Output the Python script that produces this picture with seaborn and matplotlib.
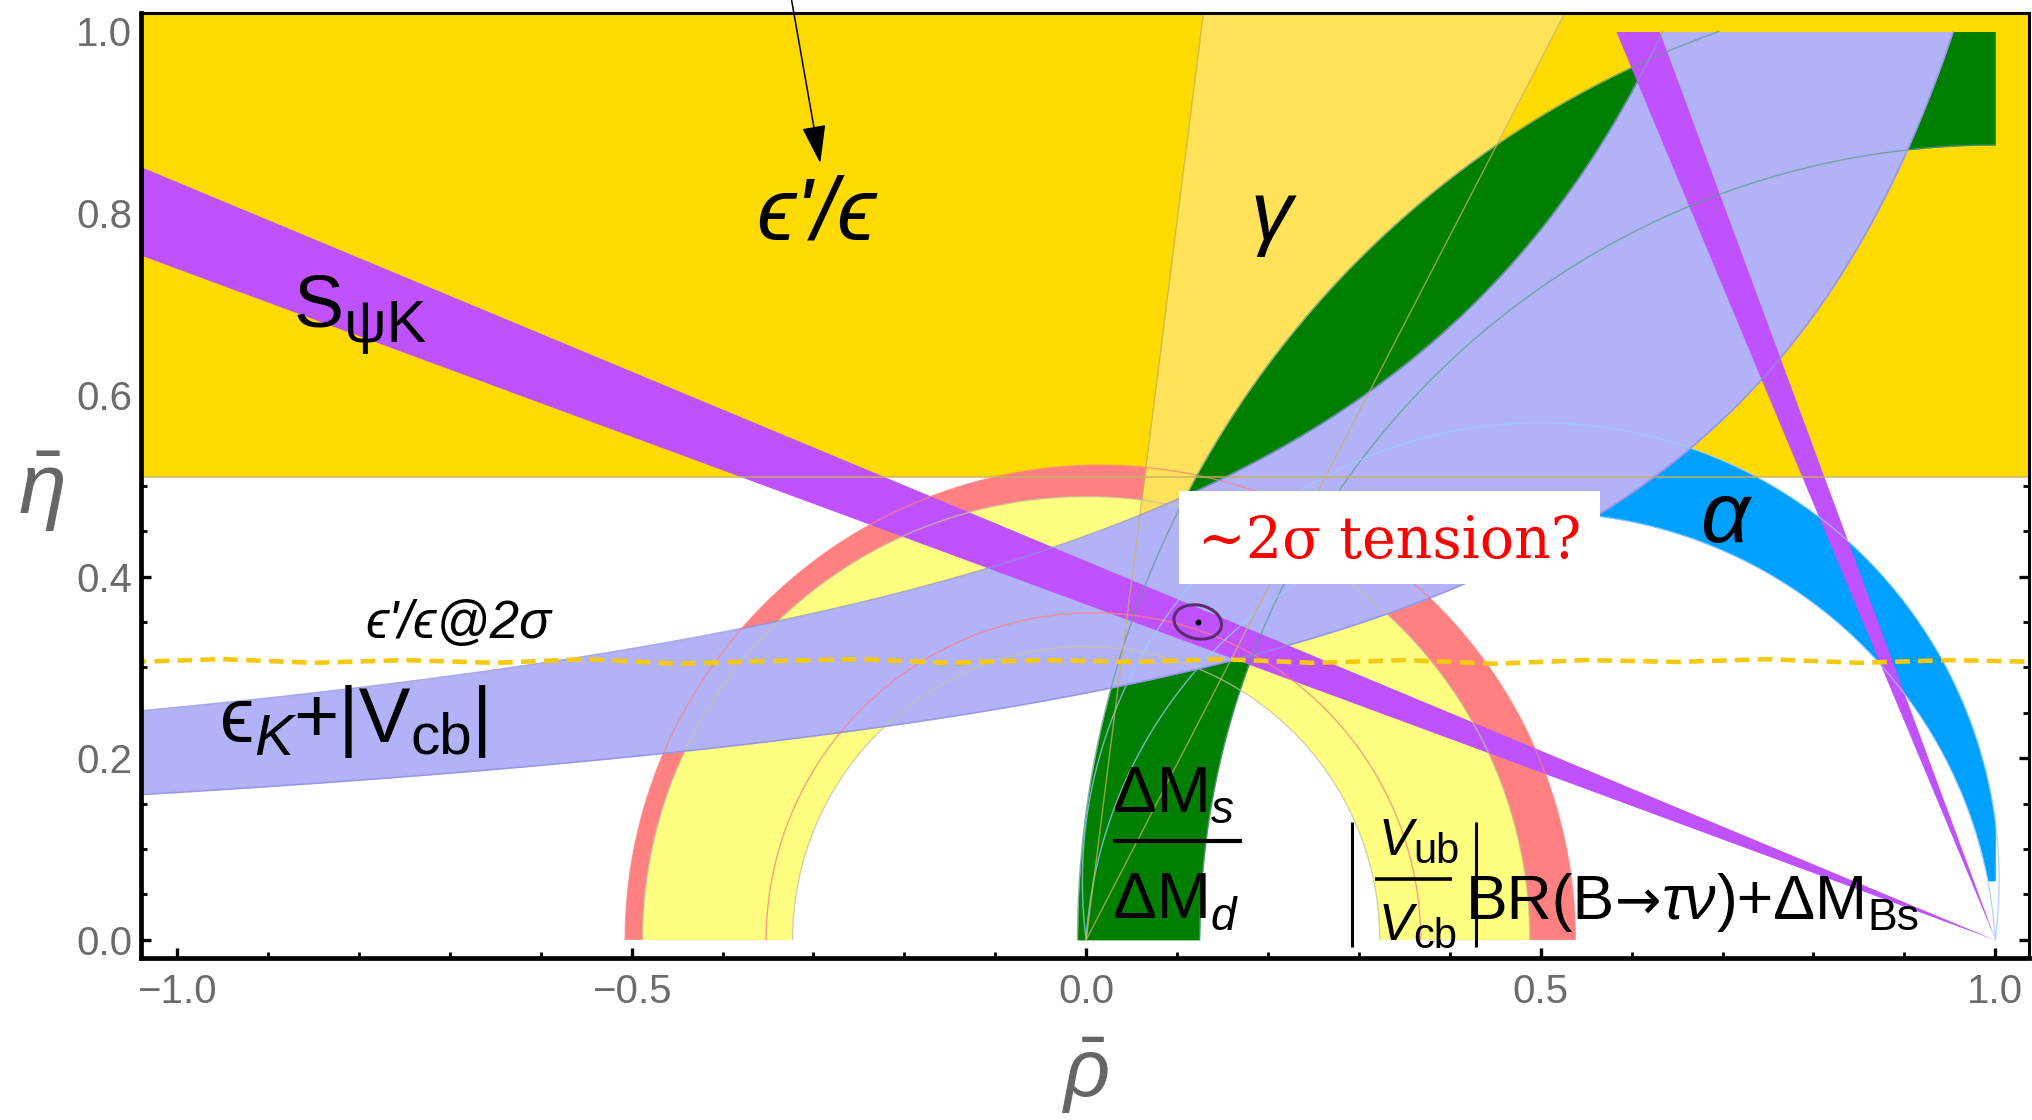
import numpy as np
import seaborn as sns
import matplotlib
matplotlib.use("Agg")
import matplotlib.pyplot as plt
from matplotlib.patches import Ellipse, Rectangle
from matplotlib.ticker import MultipleLocator
from matplotlib.transforms import offset_copy

# ---------------- plot window ----------------
RHO_LIM = [-1.04, 1.037]
ETA_LIM = [-0.02, 1.02]
RHO_TICKS = [-1.0, -0.5, 0.0, 0.5, 1.0]
ETA_TICKS = [0.0, 0.2, 0.4, 0.6, 0.8, 1.0]
SCAN_MAX = [1.0, 1.0]          # rho, eta limit of the constraint scan

# ---------------- constraints ----------------
EPSP_ETA_MIN = 0.51            # eps'/eps favoured region: eta above this
GAMMA_DEG = [62.7, 82.8]       # gamma wedge from the origin
BETA_DEG = [20.28, 22.65]      # S_psiK, lines through (1, 0)
ALPHA_DEG = [82.6, 93.5]       # alpha, arcs through (0,0) and (1,0)
ALPHA_RHO_MIN = 0.45           # visible part of the alpha band
ALPHA_ETA_MIN = 0.065
VUB_RADII = [0.323, 0.488]     # |Vub/Vcb| ring around (0, 0)
BTAU_CENTERS = [0.008, 0.0155] # BR(B->tau nu)+dM_Bs, inner / outer circle
BTAU_RADII = [0.36, 0.5225]
DMS_CENTERS = [1.0, 1.052]     # dMs/dMd, inner / outer circle
DMS_RADII = [0.875, 1.0615]
EPSK_LOW = [0.320, 1.281, 0.022]    # eta = k / (a - rho) + b
EPSK_HIGH = [0.4264, 1.0834, 0.0512]
FIT_CENTER = [0.1227, 0.350]
FIT_SIZE = [0.053, 0.037]
FIT_TILT = -12

# eps'/eps @ 2 sigma (dashed)
DASH_RHO = [-1.05, -0.95, -0.85, -0.75, -0.65, -0.55, -0.45, -0.35, -0.25, -0.15, -0.05,
            0.05, 0.15, 0.25, 0.35, 0.45, 0.55, 0.65, 0.75, 0.85, 0.95, 1.05]
DASH_ETA = [0.306, 0.309, 0.305, 0.308, 0.305, 0.309, 0.304, 0.307, 0.309, 0.305, 0.308,
            0.306, 0.309, 0.305, 0.308, 0.304, 0.308, 0.306, 0.309, 0.305, 0.308, 0.306]

GOLD = "#FDDA00"
GAMMA_C = "#FEE35A"
RED_C = "#FE8080"
YEL_C = "#FEFE80"
GREEN_C = "#007F00"
LAV_C = "#B2B2F9"
ALPHA_C = "#00A0FE"
PURPLE_C = "#BF52FC"

sns.set_theme(style="ticks")
plt.rcParams["font.family"] = ["Liberation Sans", "DejaVu Sans"]
plt.rcParams["mathtext.fontset"] = "custom"
plt.rcParams["mathtext.rm"] = "Liberation Sans"
plt.rcParams["mathtext.it"] = "Liberation Sans:italic"
plt.rcParams["mathtext.fallback"] = "cm"

fig = plt.figure(figsize=(20.33, 11.2), dpi=100)
ax = fig.add_axes([0.0692, 0.1446, 0.9288, 0.8435])
ax.set_xlim(RHO_LIM)
ax.set_ylim(ETA_LIM)
renderer = fig.canvas.get_renderer()

rho = np.linspace(RHO_LIM[0], SCAN_MAX[0], 4000)


def circ_top(x, c, r):
    return np.sqrt(np.clip(r ** 2 - (x - c) ** 2, 0, None))


def ring(c_in, r_in, c_out, r_out, color, z):
    t = np.linspace(0, np.pi, 500)
    xs = np.concatenate([c_out + r_out * np.cos(t), c_in + r_in * np.cos(t[::-1])])
    ys = np.concatenate([r_out * np.sin(t), r_in * np.sin(t[::-1])])
    ax.fill(xs, ys, color=color, lw=0, zorder=z)


def edge(x, y, color, lw=1.0, alpha=0.75, z=9):
    sns.lineplot(x=x, y=y, sort=False, estimator=None, color=color, lw=lw,
                 alpha=alpha, zorder=z, ax=ax, legend=False)


def chain(x, y, pieces):
    # pieces: (text, size, style, drop in px[, family]) written one after the other
    dx = 0.0
    for p in pieces:
        txt, size, style, drop = p[:4]
        fam = p[4] if len(p) > 4 else ["Liberation Sans", "DejaVu Sans"]
        tr = offset_copy(ax.transData, fig=fig, x=dx, y=-drop, units="dots")
        t = ax.text(x, y, txt, fontsize=size, style=style, family=fam, transform=tr,
                    ha="left", va="baseline", color="black", zorder=13)
        dx += t.get_window_extent(renderer).width


def rule(x0, x1, y0, y1, lw):
    ax.plot([x0, x1], [y0, y1], color="black", lw=lw, zorder=13, solid_capstyle="butt")


# eps'/eps
ax.axhspan(EPSP_ETA_MIN, ETA_LIM[1], color=GOLD, lw=0, zorder=1)

# BR(B->tau nu) and |Vub/Vcb| rings
ring(BTAU_CENTERS[0], BTAU_RADII[0], BTAU_CENTERS[1], BTAU_RADII[1], RED_C, 2)
ring(0.0, VUB_RADII[0], 0.0, VUB_RADII[1], YEL_C, 3)

# gamma wedge
tg = np.tan(np.radians(GAMMA_DEG))
eta_g = np.linspace(0, ETA_LIM[1], 300)
ax.fill_betweenx(eta_g, eta_g / tg[1], eta_g / tg[0], color=GAMMA_C, lw=0, zorder=4)

# dMs/dMd
dm_ok = np.abs(rho - DMS_CENTERS[1]) <= DMS_RADII[1]
dm_hi = np.minimum(circ_top(rho, DMS_CENTERS[1], DMS_RADII[1]), SCAN_MAX[1])
dm_lo = circ_top(rho, DMS_CENTERS[0], DMS_RADII[0])
ax.fill_between(rho, dm_lo, dm_hi, where=dm_ok & (dm_hi > dm_lo), color=GREEN_C,
                lw=0, zorder=5, interpolate=True)

# alpha
al_c = [0.5 / np.tan(np.radians(a)) for a in ALPHA_DEG]
al_hi = al_c[0] + circ_top(rho, 0.5, np.sqrt(0.25 + al_c[0] ** 2))
al_lo = np.maximum(al_c[1] + circ_top(rho, 0.5, np.sqrt(0.25 + al_c[1] ** 2)), ALPHA_ETA_MIN)
ax.fill_between(rho, al_lo, al_hi, where=(rho >= ALPHA_RHO_MIN) & (al_hi > al_lo),
                color=ALPHA_C, lw=0, zorder=6, interpolate=True)


# eps_K + |Vcb|
def hyper(x, p):
    return p[0] / (p[1] - x) + p[2]


ek_lo = np.minimum(hyper(rho, EPSK_LOW), SCAN_MAX[1])
ek_hi = np.minimum(hyper(rho, EPSK_HIGH), SCAN_MAX[1])
ax.fill_between(rho, ek_lo, ek_hi, where=ek_hi > ek_lo, color=LAV_C, lw=0, zorder=7,
                interpolate=True)

# S_psiK (two solutions)
tb = np.tan(np.radians(BETA_DEG))
ax.fill_between(rho, tb[0] * (1 - rho), tb[1] * (1 - rho), color=PURPLE_C, lw=0, zorder=8)
eta_s = np.linspace(0, SCAN_MAX[1], 400)
ax.fill_betweenx(eta_s, 1 - eta_s * tb[1], 1 - eta_s * tb[0], color=PURPLE_C, lw=0, zorder=8)

# ---------------- region boundaries ----------------
t = np.linspace(0, np.pi, 400)
for r in VUB_RADII:
    edge(r * np.cos(t), r * np.sin(t), "#C4C49A")
for c, r in zip(BTAU_CENTERS, BTAU_RADII):
    edge(c + r * np.cos(t), r * np.sin(t), "#FF7F7F")
t_out = np.linspace(np.pi - np.arcsin(SCAN_MAX[1] / DMS_RADII[1]), np.pi, 300)
edge(DMS_CENTERS[1] + DMS_RADII[1] * np.cos(t_out), DMS_RADII[1] * np.sin(t_out), "#5F9A88")
t_in = np.linspace(np.pi / 2, np.pi, 300)
edge(DMS_CENTERS[0] + DMS_RADII[0] * np.cos(t_in), DMS_RADII[0] * np.sin(t_in), "#5F9A88")
for c in al_c:
    R = np.sqrt(0.25 + c ** 2)
    t0 = np.arctan2(-c, 0.5)
    ta = np.linspace(t0, np.pi - t0, 400)
    edge(0.5 + R * np.cos(ta), c + R * np.sin(ta), "#9CCBFF")
for g in tg:
    edge(np.array([0, ETA_LIM[1] / g]), np.array([0, ETA_LIM[1]]), "#C8B060")
edge(np.array(RHO_LIM), np.array([EPSP_ETA_MIN, EPSP_ETA_MIN]), "#C8B060", lw=1.3)
for band in (ek_lo, ek_hi):
    m = band < SCAN_MAX[1]
    edge(rho[m], band[m], "#8E8EE0", lw=1.2)

# eps'/eps at 2 sigma
sns.lineplot(x=DASH_RHO, y=DASH_ETA, sort=False, estimator=None, color="#F5C90F", lw=3.3,
             zorder=10, ax=ax, legend=False)
ax.get_lines()[-1].set_linestyle((0, (3.2, 1.8)))

# best fit
ax.add_patch(Ellipse(FIT_CENTER, FIT_SIZE[0], FIT_SIZE[1], angle=FIT_TILT, fill=False,
                     ec="#5B2C6F", lw=2.2, zorder=11))
sns.scatterplot(x=[FIT_CENTER[0]], y=[FIT_CENTER[1]], s=18, color="black", zorder=11,
                ax=ax, legend=False, linewidth=0)

# tension label
ax.add_patch(Rectangle((0.1016, 0.392), 0.4634, 0.102, fc="white", ec="none", zorder=12))
ax.text(0.3335, 0.4206, "~2σ tension?", color="red", family="DejaVu Serif", fontsize=41,
        ha="center", va="baseline", zorder=13)

# ---------------- labels ----------------
lab = dict(color="black", zorder=13, ha="center", va="baseline")
ax.text(-0.297, 0.771, "ϵ'/ϵ", fontsize=64, style="italic", **lab)
ax.text(0.2036, 0.771, "γ", fontsize=60, style="italic", **lab)
ax.text(0.7025, 0.4385, "α", fontsize=62, style="italic", **lab)
ax.text(-0.691, 0.3325, "ϵ'/ϵ@2σ", fontsize=38, style="italic", **lab)

chain(-0.872, 0.675, [("S", 54, "normal", 0), ("ψK", 43, "normal", 15)])
chain(-0.953, 0.218, [("ϵ", 56, "normal", 0), ("K", 42, "italic", 13),
                      ("+|V", 56, "normal", 0), ("cb", 42, "normal", 12),
                      ("|", 56, "normal", 0)])

# dMs / dMd
chain(0.029, 0.1409, [("ΔM", 47, "normal", 0), ("s", 33, "italic", 11)])
chain(0.029, 0.0242, [("ΔM", 47, "normal", 0), ("d", 33, "italic", 12)])
rule(0.029, 0.1719, 0.109, 0.109, 3.0)

# |Vub/Vcb| BR(B->tau nu)+dM_Bs
chain(0.322, 0.0936, [("V", 37, "italic", 0), ("ub", 30, "normal", 8)])
chain(0.322, 0.0, [("V", 37, "italic", 0), ("cb", 30, "normal", 8)])
rule(0.318, 0.402, 0.0672, 0.0672, 2.6)
rule(0.2926, 0.2926, -0.0077, 0.130, 2.2)
rule(0.4288, 0.4288, -0.0077, 0.130, 2.2)
chain(0.418, 0.023, [("BR(B", 45, "normal", 0), ("→", 40, "normal", 0, "DejaVu Sans"),
                     ("τν", 45, "italic", 0), (")+ΔM", 45, "normal", 0),
                     ("Bs", 32, "normal", 11)])

ax.annotate("", xy=(-0.2925, 0.855), xytext=(-0.328, 1.057),
            arrowprops=dict(arrowstyle="-|>,head_length=0.8,head_width=0.25", color="black",
                            lw=1.1, mutation_scale=30, shrinkA=0, shrinkB=0),
            annotation_clip=False, zorder=14)

ax.text(-1.150, 0.493, r"$\bar{\eta}$", fontsize=62, color="#666666", ha="center",
        va="center", clip_on=False)
ax.text(0.0, -0.150, r"$\bar{\rho}$", fontsize=58, color="#666666", ha="center",
        va="center", clip_on=False)

# ---------------- frame and ticks ----------------
ax.set_xticks(RHO_TICKS)
ax.set_yticks(ETA_TICKS)
ax.xaxis.set_minor_locator(MultipleLocator(0.1))
ax.yaxis.set_minor_locator(MultipleLocator(0.05))
ax.tick_params(which="both", direction="in", top=True, right=True, color="black")
ax.tick_params(which="major", length=7, width=2.4, labelsize=29, labelcolor="#6b6b6b")
ax.tick_params(which="minor", length=4.5, width=2.0)
ax.tick_params(axis="x", pad=11)
ax.tick_params(axis="y", pad=6)
for s in ("left", "bottom"):
    ax.spines[s].set_linewidth(3.4)
for s in ("top", "right"):
    ax.spines[s].set_linewidth(2.2)
for s in ax.spines.values():
    s.set_color("black")
    s.set_zorder(20)
ax.set_xlabel("")
ax.set_ylabel("")

fig.savefig("out.png", dpi=100)
